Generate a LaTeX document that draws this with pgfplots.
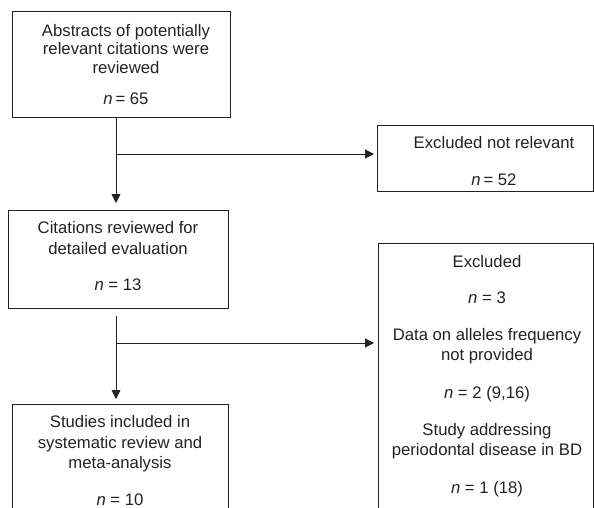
\documentclass[border=0pt]{standalone}
\usepackage{pgfplots}
\pgfplotsset{compat=1.18}
\usepackage{fontspec}
\setmainfont{Liberation Sans}
\usetikzlibrary{arrows.meta}
\definecolor{ink}{HTML}{222222}
\tikzset{txt/.style={anchor=base, text=ink, font=\fontsize{16.7bp}{20bp}\selectfont, inner sep=0pt},
  ln/.style={draw=ink, line width=1bp, mark=none},
  arr/.style={ln, -{Triangle[length=9bp,width=9bp]}}}
\begin{document}
\begin{tikzpicture}
\begin{axis}[scale only axis, width=594bp, height=508bp,
  xmin=0, xmax=594, ymin=0, ymax=508, y dir=reverse,
  axis lines=none, clip=true]
% boxes
\addplot[ln] coordinates {(12,12) (230,12) (230,118) (12,118) (12,12)};
\addplot[ln] coordinates {(377,125) (593.5,125) (593.5,191) (377,191) (377,125)};
\addplot[ln] coordinates {(8,210) (228,210) (228,308) (8,308) (8,210)};
\addplot[ln] coordinates {(378,509) (378,243) (593.5,243) (593.5,509)};
\addplot[ln] coordinates {(12,509) (12,404) (228,404) (228,509)};
% connectors
\addplot[arr] coordinates {(116,118) (116,203)};
\addplot[arr] coordinates {(116,154) (374,154)};
\addplot[arr] coordinates {(116,316) (116,399)};
\addplot[arr] coordinates {(116,343) (374,343)};
% texts
\node[txt] at (axis cs:126,37) {Abstracts of potentially};
\node[txt] at (axis cs:126,55) {relevant citations were};
\node[txt] at (axis cs:126,74) {reviewed};
\node[txt] at (axis cs:126,104) {\textit{n}\,= 65};
\node[txt] at (axis cs:494,148) {Excluded not relevant};
\node[txt] at (axis cs:494,185) {\textit{n}\,= 52};
\node[txt] at (axis cs:118,233) {Citations reviewed for};
\node[txt] at (axis cs:118,254) {detailed evaluation};
\node[txt] at (axis cs:118,290) {\textit{n} = 13};
\node[txt] at (axis cs:487,267) {Excluded};
\node[txt] at (axis cs:487,303) {\textit{n} = 3};
\node[txt] at (axis cs:487,340) {Data on alleles frequency};
\node[txt] at (axis cs:487,360) {not provided};
\node[txt] at (axis cs:487,398) {\textit{n} = 2 (9,16)};
\node[txt] at (axis cs:487,435) {Study addressing};
\node[txt] at (axis cs:487,455) {periodontal disease in BD};
\node[txt] at (axis cs:487,493) {\textit{n} = 1 (18)};
\node[txt] at (axis cs:120,427) {Studies included in};
\node[txt] at (axis cs:120,448) {systematic review and};
\node[txt] at (axis cs:120,468) {meta-analysis};
\node[txt] at (axis cs:120,505) {\textit{n} = 10};
\end{axis}
\pgfresetboundingbox
\path (current axis.south west) rectangle (current axis.north east);
\end{tikzpicture}
\end{document}
